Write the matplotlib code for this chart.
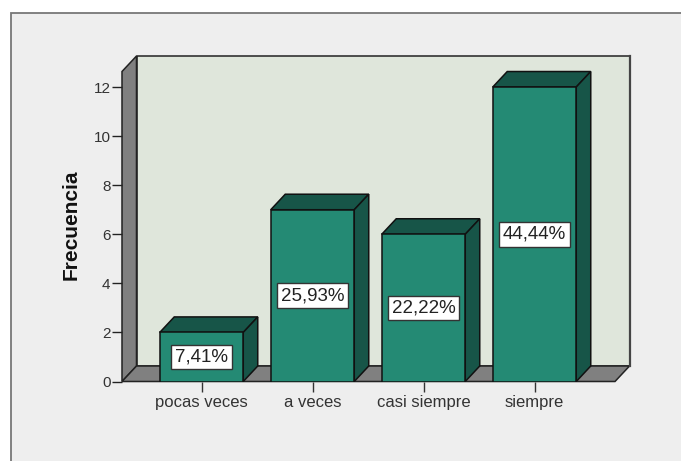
import matplotlib
matplotlib.use('Agg')
import matplotlib.pyplot as plt
from matplotlib.patches import Rectangle

categorias = ['pocas veces', 'a veces', 'casi siempre', 'siempre']
frecuencia = [2, 7, 6, 12]
porcentajes = ['7,41%', '25,93%', '22,22%', '44,44%']
yticks = [0, 2, 4, 6, 8, 10, 12]

W = 681
H = 461

verde = '#248a74'
verde_osc = '#175548'
pared = '#dfe6db'
gris = '#808080'
fondo = '#eeeeee'
borde = '#111111'

plt.rcParams['font.family'] = ['Liberation Sans', 'DejaVu Sans']

fig = plt.figure(figsize=(W / 100, H / 100), dpi=100, facecolor='white')

# panel gris de fondo, detras de los ejes
fig.add_artist(Rectangle((10.5 / W, -0.01), 1.0, (H - 13.5) / H + 0.01, transform=fig.transFigure,
                         facecolor=fondo, edgecolor='#777777', linewidth=1.3, zorder=-1))

# ejes en el plano frontal, en pixeles: x 122-615, y 381.5-71.5
ax = fig.add_axes([122 / W, (H - 381.5) / H, (615 - 122) / W, 310 / H])
ax.patch.set_visible(False)
paso = 111.0
upy = 24.54
x0 = (122 - 201.5) / paso
x1 = (615 - 201.5) / paso
y1 = 310 / upy
ax.set_xlim(x0, x1)
ax.set_ylim(0, y1)
dx = 14.5 / paso
dy = 15.5 / upy
ancho = 83.5 / paso

# pared del fondo, lateral y suelo
ax.fill([x0 + dx, x1 + dx, x1 + dx, x0 + dx], [dy, dy, y1 + dy, y1 + dy],
        facecolor=pared, edgecolor='#222222', lw=1.1, clip_on=False, zorder=1)
ax.fill([x0, x0 + dx, x0 + dx, x0], [0, dy, y1 + dy, y1],
        facecolor=gris, edgecolor='#222222', lw=1.1, clip_on=False, zorder=1)
ax.fill([x0, x1, x1 + dx, x0 + dx], [0, 0, dy, dy],
        facecolor=gris, edgecolor='#222222', lw=1.1, clip_on=False, zorder=1)
ax.plot([x1 + dx, x1 + dx], [dy, y1 + dy], color='#444444', lw=1.6, clip_on=False, zorder=1.5)

posiciones = list(range(len(categorias)))
ax.bar(posiciones, frecuencia, width=ancho, color=verde, edgecolor=borde, linewidth=1.1, zorder=3)
for p, v, t in zip(posiciones, frecuencia, porcentajes):
    izq = p - ancho / 2
    der = p + ancho / 2
    ax.fill([izq, der, der + dx, izq + dx], [v, v, v + dy, v + dy],
            facecolor=verde_osc, edgecolor=borde, lw=1.1, clip_on=False, zorder=2)
    ax.fill([der, der + dx, der + dx, der], [0, dy, v + dy, v],
            facecolor=verde_osc, edgecolor=borde, lw=1.1, clip_on=False, zorder=2)
    ax.text(p, v / 2, t, ha='center', va='center', fontsize=13.5, color='#222222', zorder=5,
            bbox=dict(boxstyle='square,pad=0.2', facecolor='white', edgecolor='#333333', linewidth=1.0))

for s in ax.spines.values():
    s.set_visible(False)
ax.set_xticks(posiciones)
ax.set_xticklabels(categorias, fontsize=12, color='#333333')
ax.set_yticks(yticks)
ax.tick_params(axis='y', length=7.2, width=1.0, color='#222222', labelcolor='#333333', labelsize=11, pad=1)
ax.tick_params(axis='x', length=7.2, width=1.0, color='#333333', pad=2.5)

fig.text(71 / W, (H - 225) / H, 'Frecuencia', rotation=90, ha='center', va='center',
         fontsize=15, fontweight='bold', color='#111111')

fig.savefig('out.png', dpi=100, facecolor='white')
